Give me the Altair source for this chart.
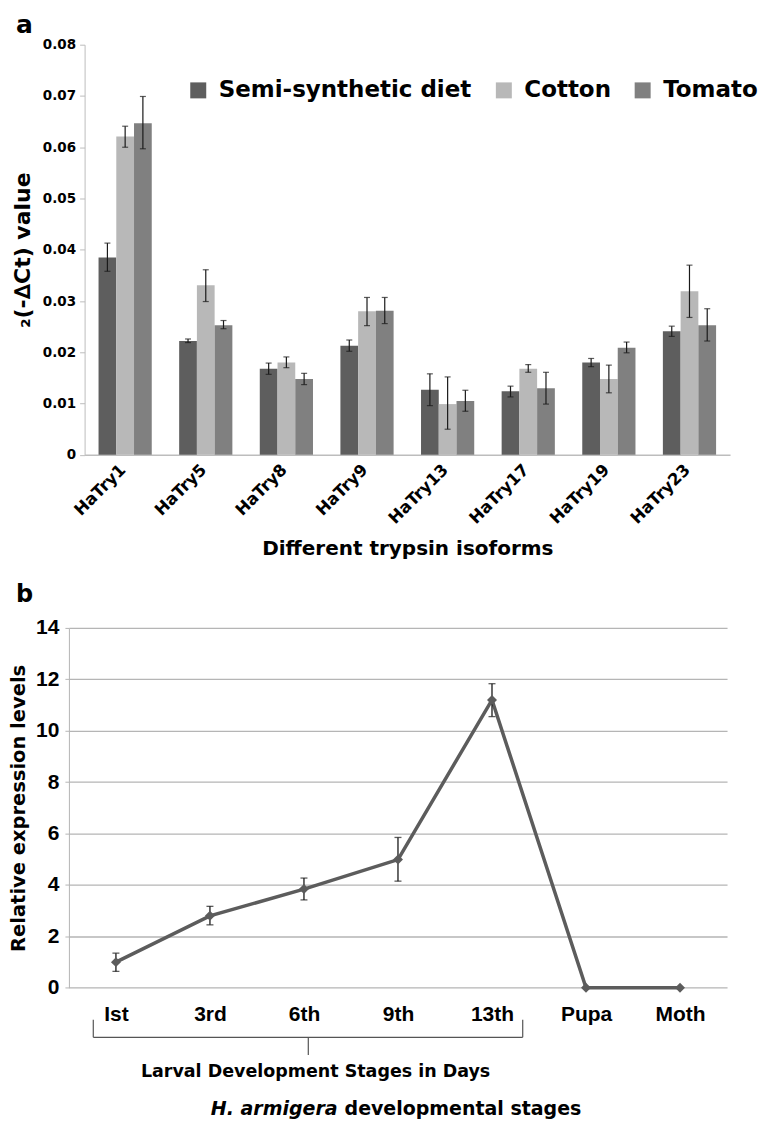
import altair as alt
import pandas as pd

# ---------------- Panel a data ----------------
isoforms = ["HaTry1", "HaTry5", "HaTry8", "HaTry9", "HaTry13", "HaTry17", "HaTry19", "HaTry23"]
diets = ["Semi-synthetic diet", "Cotton", "Tomato"]
diet_colors = ["#5e5e5e", "#b8b8b8", "#808080"]

semi = [0.0385, 0.0222, 0.0168, 0.0213, 0.0127, 0.0124, 0.0180, 0.0241]
semi_lo = [0.0358, 0.0219, 0.0157, 0.0202, 0.0096, 0.0113, 0.0172, 0.0231]
semi_hi = [0.0413, 0.0226, 0.0179, 0.0224, 0.0158, 0.0134, 0.0188, 0.0251]
cotton = [0.0621, 0.0331, 0.0180, 0.0280, 0.0099, 0.0168, 0.0148, 0.0319]
cotton_lo = [0.0600, 0.0299, 0.0170, 0.0252, 0.0050, 0.0161, 0.0121, 0.0268]
cotton_hi = [0.0641, 0.0361, 0.0191, 0.0307, 0.0152, 0.0176, 0.0175, 0.0370]
tomato = [0.0647, 0.0253, 0.0148, 0.0281, 0.0105, 0.0130, 0.0209, 0.0253]
tomato_lo = [0.0597, 0.0246, 0.0137, 0.0256, 0.0085, 0.0099, 0.0199, 0.0222]
tomato_hi = [0.0699, 0.0262, 0.0159, 0.0307, 0.0126, 0.0161, 0.0220, 0.0285]
y_ticks_a = [0, 0.01, 0.02, 0.03, 0.04, 0.05, 0.06, 0.07, 0.08]

# ---------------- Panel b data ----------------
stages = ["Ist", "3rd", "6th", "9th", "13th", "Pupa", "Moth"]
expr = [1.0, 2.8, 3.84, 4.99, 11.2, 0.0, 0.0]
expr_lo = [0.64, 2.45, 3.42, 4.15, 10.55, None, None]
expr_hi = [1.35, 3.17, 4.27, 5.85, 11.83, None, None]
y_ticks_b = [0, 2, 4, 6, 8, 10, 12, 14]

rows = []
for series, vals, los, his in [(diets[0], semi, semi_lo, semi_hi),
                               (diets[1], cotton, cotton_lo, cotton_hi),
                               (diets[2], tomato, tomato_lo, tomato_hi)]:
    for iso, v, lo, hi in zip(isoforms, vals, los, his):
        rows.append({"isoform": iso, "diet": series, "value": v, "lo": lo, "hi": hi})
df_a = pd.DataFrame(rows)

df_b = pd.DataFrame({"stage": stages, "expr": expr, "lo": expr_lo, "hi": expr_hi})
df_b_err = df_b.dropna()
one = pd.DataFrame({"k": [0]})

HEAVY = "DejaVu Sans"
PLAIN = "Liberation Sans"

# ---------------- Panel a ----------------
x_a = alt.X("isoform:N", sort=isoforms,
            scale=alt.Scale(range=[15.7, 662], paddingInner=0.34, paddingOuter=0.173),
            axis=alt.Axis(title="Different trypsin isoforms", labelAngle=-45,
                          labelAlign="right", labelBaseline="middle", labelOffset=-2,
                          labelFont=HEAVY, labelFontSize=16.5, labelFontWeight="bold",
                          labelColor="black", labelPadding=12, ticks=False,
                          domainColor="#bdbdbd", domainWidth=1.5,
                          titleFont=HEAVY, titleFontSize=20, titleFontWeight="bold",
                          titleColor="black", titlePadding=12))
xo_a = alt.XOffset("diet:N", sort=diets, scale=alt.Scale(paddingInner=0, paddingOuter=0))
y_a = alt.Y("value:Q", scale=alt.Scale(domain=[0, 0.08]),
            axis=alt.Axis(title="₂(-∆Ct) value", values=y_ticks_a, grid=False,
                          labelExpr="datum.value == 0 ? '0' : format(datum.value, '.2f')",
                          labelFont=HEAVY, labelFontSize=13.5, labelFontWeight="bold",
                          labelColor="black", labelPadding=4, tickSize=5,
                          tickColor="#bdbdbd", domainColor="#bdbdbd", offset=-15.7,
                          titleFont=HEAVY, titleFontSize=22, titleFontWeight="bold",
                          titleColor="black", titlePadding=8))

bars = alt.Chart(df_a).mark_bar().encode(
    x=x_a, xOffset=xo_a, y=y_a,
    color=alt.Color("diet:N", sort=diets,
                    scale=alt.Scale(domain=diets, range=diet_colors),
                    legend=alt.Legend(title=None, orient="none", legendX=118, legendY=34,
                                      direction="horizontal", columns=3,
                                      symbolType="square", symbolSize=256,
                                      symbolStrokeWidth=0, symbolOpacity=1,
                                      labelFont=HEAVY, labelFontSize=23,
                                      labelFontWeight="bold", labelColor="black",
                                      labelOffset=9, columnPadding=20,
                                      labelLimit=400)))
err_a = alt.Chart(df_a).mark_rule(color="#1a1a1a", strokeWidth=1.2).encode(
    x=alt.X("isoform:N", sort=isoforms), xOffset=alt.XOffset("diet:N", sort=diets),
    y="lo:Q", y2="hi:Q")
cap_lo = alt.Chart(df_a).mark_tick(color="#1a1a1a", thickness=1.2, size=6, orient="horizontal").encode(
    x=alt.X("isoform:N", sort=isoforms), xOffset=alt.XOffset("diet:N", sort=diets),
    y="lo:Q")
cap_hi = alt.Chart(df_a).mark_tick(color="#1a1a1a", thickness=1.2, size=6, orient="horizontal").encode(
    x=alt.X("isoform:N", sort=isoforms), xOffset=alt.XOffset("diet:N", sort=diets),
    y="hi:Q")
label_a = alt.Chart(one).mark_text(font=HEAVY, fontSize=25, fontWeight="bold", color="black",
                                   align="left", baseline="alphabetic").encode(
    x=alt.value(-53), y=alt.value(-12), text=alt.value("a"))

panel_a = alt.layer(bars, err_a, cap_lo, cap_hi, label_a).properties(width=662, height=410.7)

# ---------------- Panel b ----------------
x_b = alt.X("stage:N", sort=stages, scale=alt.Scale(type="point", padding=0.5),
            axis=alt.Axis(title=None, labelAngle=0, labelFont=PLAIN, labelFontSize=21,
                          labelFontWeight="bold", labelColor="black", labelPadding=16,
                          ticks=False, domain=False, grid=False))
y_b = alt.Y("expr:Q", scale=alt.Scale(domain=[0, 14]),
            axis=alt.Axis(title="Relative expression levels", values=y_ticks_b,
                          grid=True, gridColor="#b5b5b5", gridWidth=1.3,
                          domainColor="#b5b5b5", tickColor="#b5b5b5", tickSize=4,
                          labelFont=PLAIN, labelFontSize=21, labelFontWeight="bold",
                          labelColor="black", labelPadding=6,
                          titleFont=HEAVY, titleFontSize=19.5, titleFontWeight="bold",
                          titleColor="black", titlePadding=7))

line_b = alt.Chart(df_b).mark_line(color="#5c5c5c", strokeWidth=3.5).encode(x=x_b, y=y_b)
err_b = alt.Chart(df_b_err).mark_rule(color="#1a1a1a", strokeWidth=1.3).encode(
    x=alt.X("stage:N", sort=stages), y="lo:Q", y2="hi:Q")
cap_b_lo = alt.Chart(df_b_err).mark_tick(color="#1a1a1a", thickness=1.3, size=7, orient="horizontal").encode(
    x=alt.X("stage:N", sort=stages), y="lo:Q")
cap_b_hi = alt.Chart(df_b_err).mark_tick(color="#1a1a1a", thickness=1.3, size=7, orient="horizontal").encode(
    x=alt.X("stage:N", sort=stages), y="hi:Q")
pts_b = alt.Chart(df_b).mark_point(shape="diamond", filled=True, size=100, color="#5c5c5c", opacity=1).encode(
    x=alt.X("stage:N", sort=stages), y="expr:Q")

br_color = "#555555"
br_h = alt.Chart(one).mark_rule(color=br_color, strokeWidth=1.2).encode(
    x=alt.value(24.4), x2=alt.value(454.4), y=alt.value(410))
br_l = alt.Chart(one).mark_rule(color=br_color, strokeWidth=1.2).encode(
    x=alt.value(24.4), y=alt.value(392.4), y2=alt.value(410))
br_r = alt.Chart(one).mark_rule(color=br_color, strokeWidth=1.2).encode(
    x=alt.value(454.4), y=alt.value(392.4), y2=alt.value(410))
br_m = alt.Chart(one).mark_rule(color=br_color, strokeWidth=1.2).encode(
    x=alt.value(239.7), y=alt.value(410), y2=alt.value(427.7))
larval = alt.Chart(one).mark_text(font=HEAVY, fontSize=17.5, fontWeight="bold",
                                  color="black", baseline="middle", align="center").encode(
    x=alt.value(247), y=alt.value(444.7), text=alt.value("Larval Development Stages in Days"))
species = alt.Chart(one).mark_text(font=HEAVY, fontSize=19, fontWeight="bold", fontStyle="italic",
                                   color="black", baseline="middle", align="right").encode(
    x=alt.value(269), y=alt.value(481.7), text=alt.value("H. armigera"))
dev = alt.Chart(one).mark_text(font=HEAVY, fontSize=19, fontWeight="bold",
                               color="black", baseline="middle", align="left").encode(
    x=alt.value(276), y=alt.value(481.7), text=alt.value("developmental stages"))
label_b = alt.Chart(one).mark_text(font=HEAVY, fontSize=24, fontWeight="bold", color="black",
                                   align="left", baseline="alphabetic").encode(
    x=alt.value(-53), y=alt.value(-26), text=alt.value("b"))

panel_b = alt.layer(line_b, err_b, cap_b_lo, cap_b_hi, pts_b,
                    br_h, br_l, br_r, br_m, larval, species, dev, label_b).properties(
    width=659, height=360.4)

chart = alt.vconcat(panel_a, panel_b, spacing=24).properties(
    padding={"left": 0, "top": 4, "right": 0, "bottom": 0},
    background="white"
).configure_view(stroke=None)

chart.save("out.html", embed_options={"renderer": "svg", "actions": False})
